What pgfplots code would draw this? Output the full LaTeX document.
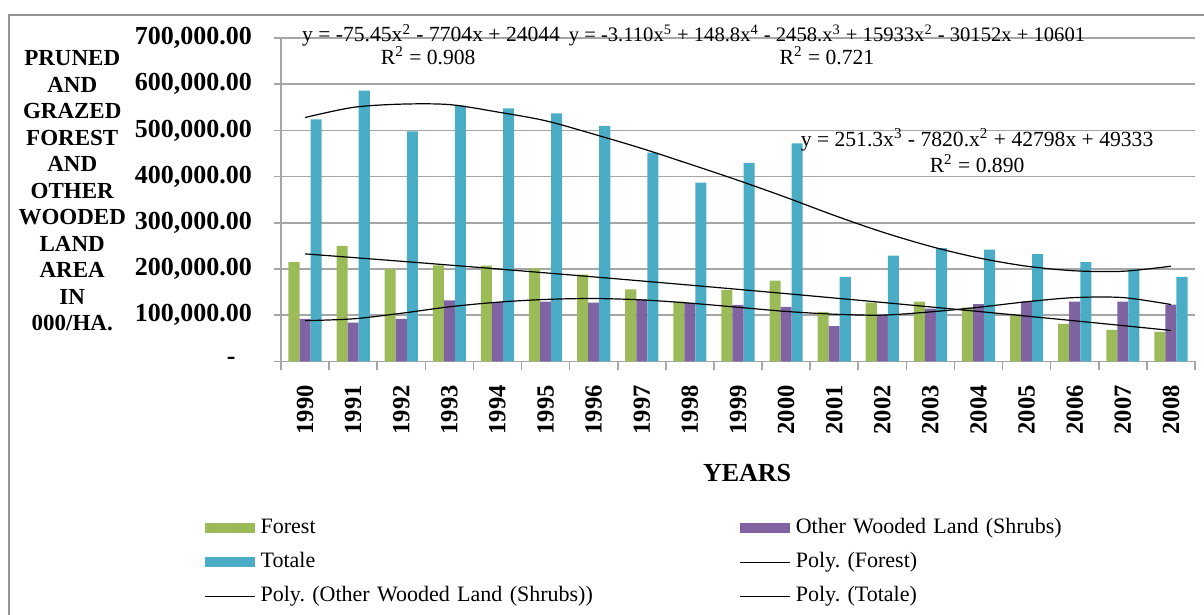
\documentclass[border=0pt]{standalone}
\usepackage{fontspec}
\setmainfont{Liberation Serif}
\usepackage{pgfplots}
\usepackage{pgfplotstable}
\pgfplotsset{compat=1.18}
\frenchspacing
\definecolor{cforest}{RGB}{155,187,89}
\definecolor{cowl}{RGB}{128,100,162}
\definecolor{ctot}{RGB}{75,172,198}
\definecolor{cgrid}{RGB}{166,166,166}
\definecolor{cframe}{RGB}{150,150,150}
\pgfplotstableread{
x forest owl tot tf towl ttot
0 215000 92000 524000 232661 88000 528000
1 250000 84000 586000 224730 92000 550000
2 200000 92000 498000 216649 104000 557000
3 208000 132000 554000 208417 118000 556000
4 207000 128000 548000 200034 128000 540000
5 201000 129000 537000 191500 134000 521000
6 188000 127000 510000 182815 136000 492000
7 156000 134000 452000 173979 133000 461000
8 129000 126000 387000 164993 126000 427000
9 154000 122000 430000 155855 117000 392000
10 175000 118000 472000 146567 108000 355000
11 107000 76000 183000 137127 102000 316000
12 127000 100000 229000 127537 100000 280000
13 129000 114000 245000 117796 107000 249000
14 116000 124000 242000 107904 117000 224000
15 99000 129000 232000 97861 129000 206000
16 81000 129000 215000 87667 138000 196000
17 68000 129000 199000 77322 138000 195000
18 64000 123000 183000 66827 123000 206000
}\datatable
\begin{document}
\frenchspacing
\begin{tikzpicture}
\begin{axis}[
  at={(0,0)}, anchor=south west,
  width=457pt, height=161.6pt, scale only axis,
  xmin=-0.5, xmax=18.5, ymin=0, ymax=700000,
  clip=false,
  scaled y ticks=false,
  axis x line*=bottom, axis y line*=left,
  axis line style={cgrid, line width=0.8pt},
  ytick={0,100000,200000,300000,400000,500000,600000,700000},
  yticklabels={{\makebox[12.5pt][l]{-}},{100,000.00},{200,000.00},{300,000.00},{400,000.00},{500,000.00},{600,000.00},{700,000.00}},
  ymajorgrids, grid style={cgrid, line width=0.8pt},
  tick align=outside, major tick length=3.5pt, minor tick length=4.5pt,
  tick style={cgrid, line width=0.8pt},
  xtick={0,...,18},
  xticklabels={1990,1991,1992,1993,1994,1995,1996,1997,1998,1999,2000,2001,2002,2003,2004,2005,2006,2007,2008},
  minor xtick={-0.5,0.5,...,18.5},
  major x tick style={draw=none},
  xticklabel style={rotate=90, anchor=east, font=\fontsize{12.3}{14}\selectfont\bfseries},
  xticklabel shift=5pt,
  yticklabel style={font=\fontsize{13}{15}\selectfont\bfseries, xshift=-7.5pt},
  legend columns=2,
  legend cell align=left,
  legend style={at={(axis cs:-2.10,-327300)}, anchor=north west, draw=none, fill=none,
    inner sep=0pt, row sep=1.5pt, column sep=0pt,
    nodes={inner sep=2.5pt, text width=237pt, text height=8pt, text depth=2.5pt, font=\fontsize{11}{13}\selectfont\frenchspacing}},
]
\addplot[ybar, bar width=0.23, bar shift=-0.23, fill=cforest, draw=none,
  legend image code/.code={\fill[cforest] (0pt,-2.5pt) rectangle (25pt,2.5pt);}]
  table[x=x, y=forest]{\datatable};
\addplot[ybar, bar width=0.23, bar shift=0, fill=cowl, draw=none,
  legend image code/.code={\fill[cowl] (0pt,-2.5pt) rectangle (25pt,2.5pt);}]
  table[x=x, y=owl]{\datatable};
\addplot[ybar, bar width=0.23, bar shift=0.23, fill=ctot, draw=none,
  legend image code/.code={\fill[ctot] (0pt,-2.5pt) rectangle (25pt,2.5pt);}]
  table[x=x, y=tot]{\datatable};
\addplot[black, line width=0.6pt, smooth, no marks,
  legend image code/.code={\draw[black, line width=0.6pt] (0pt,0pt) -- (25pt,0pt);}]
  table[x=x, y=tf]{\datatable};
\addplot[black, line width=0.6pt, smooth, no marks,
  legend image code/.code={\draw[black, line width=0.6pt] (0pt,0pt) -- (25pt,0pt);}]
  table[x=x, y=towl]{\datatable};
\addplot[black, line width=0.6pt, smooth, no marks,
  legend image code/.code={\draw[black, line width=0.6pt] (0pt,0pt) -- (25pt,0pt);}]
  table[x=x, y=ttot]{\datatable};
\legend{Forest, Other Wooded Land (Shrubs), Totale, Poly. (Forest), Poly. (Other Wooded Land (Shrubs)), Poly. (Totale)}

\node[font=\fontsize{10.8}{13}\selectfont] at (axis cs:2.62,706000) {y = -75.45x\textsuperscript{2} - 7704x + 24044};
\node[font=\fontsize{10.8}{13}\selectfont] at (axis cs:2.56,661000) {R\textsuperscript{2} = 0.908};
\node[font=\fontsize{10.3}{13}\selectfont] at (axis cs:10.85,706000) {y = -3.110x\textsuperscript{5} + 148.8x\textsuperscript{4} - 2458.x\textsuperscript{3} + 15933x\textsuperscript{2} - 30152x + 10601};
\node[font=\fontsize{10.8}{13}\selectfont] at (axis cs:10.85,661000) {R\textsuperscript{2} = 0.721};
\node[font=\fontsize{10.8}{13}\selectfont] at (axis cs:13.97,479000) {y = 251.3x\textsuperscript{3} - 7820.x\textsuperscript{2} + 42798x + 49333};
\node[font=\fontsize{10.8}{13}\selectfont] at (axis cs:13.97,429000) {R\textsuperscript{2} = 0.890};
\node[align=center, font=\fontsize{11.5}{13.25}\selectfont\bfseries] at (axis cs:-4.84,369000)
  {PRUNED\\AND\\GRAZED\\FOREST\\AND\\OTHER\\WOODED\\LAND\\AREA\\IN\\000/HA.};
\node[font=\fontsize{13}{15}\selectfont\bfseries] at (axis cs:9.19,-241800) {YEARS};
\end{axis}
\pgfresetboundingbox
\path[use as bounding box] (-140.5pt,-126.85pt) rectangle (461.5pt,180.65pt);
\draw[cframe, line width=1pt] (-136pt,-140pt) rectangle (480pt,173.2pt);
\end{tikzpicture}
\end{document}
